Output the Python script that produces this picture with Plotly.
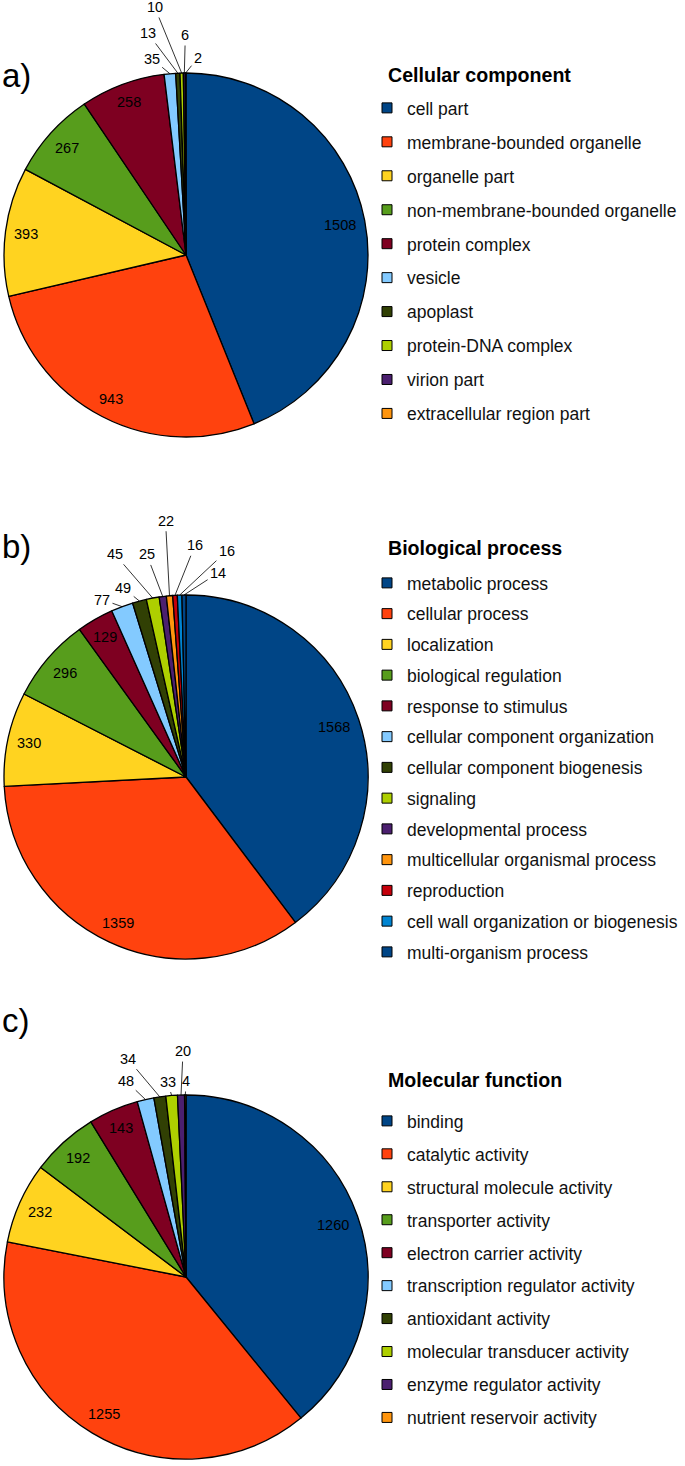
import math
import plotly.graph_objects as go

W, H = 685, 1466
FONT = "Liberation Sans, Arial, sans-serif"

# ---------------- data ----------------
cc_title = "Cellular component"
cc_labels = ["cell part", "membrane-bounded organelle", "organelle part",
             "non-membrane-bounded organelle", "protein complex", "vesicle",
             "apoplast", "protein-DNA complex", "virion part",
             "extracellular region part"]
cc_values = [1508, 943, 393, 267, 258, 35, 13, 10, 6, 2]

bp_title = "Biological process"
bp_labels = ["metabolic process", "cellular process", "localization",
             "biological regulation", "response to stimulus",
             "cellular component organization", "cellular component biogenesis",
             "signaling", "developmental process",
             "multicellular organismal process", "reproduction",
             "cell wall organization or biogenesis", "multi-organism process"]
bp_values = [1568, 1359, 330, 296, 129, 77, 49, 45, 25, 22, 16, 16, 14]

mf_title = "Molecular function"
mf_labels = ["binding", "catalytic activity", "structural molecule activity",
             "transporter activity", "electron carrier activity",
             "transcription regulator activity", "antioxidant activity",
             "molecular transducer activity", "enzyme regulator activity",
             "nutrient reservoir activity"]
mf_values = [1260, 1255, 232, 192, 143, 48, 34, 33, 20, 4]

panel_tags = ["a)", "b)", "c)"]

# ---------------- style / layout ----------------
palette = ["#004586", "#ff420e", "#ffd320", "#579d1c", "#7e0021", "#83caff",
           "#314004", "#aecf00", "#4b1f6f", "#ff950e", "#c5000b", "#0084d1",
           "#004586"]

# pixel offsets of the leader-line labels for the small slices (layout only)
cc_small_offsets = [(-18, -15), (-30, -40), (-27, -66), (1, -38), (12, -15)]
bp_small_offsets = [(-20, -7), (-16, -13), (-38, -44), (-16, -42), (-4, -75),
                    (20, -50), (47, -44), (34, -22)]
mf_small_offsets = [(-20, -19), (-32, -38), (-4, -14), (2, -44), (1, -14)]

R = 182          # pie radius in px
CX = 186         # pie centre x in px
VAL_FS = 14.5    # value label font size


def px_x(x):
    return x / W


def px_y(y):
    return 1 - y / H


def mid_angles(values):
    tot = float(sum(values))
    out, cum = [], 0.0
    for v in values:
        out.append(2 * math.pi * (cum + v / 2.0) / tot)
        cum += v
    return out


fig = go.Figure()

# (title, labels, values, offsets, pie centre y, title y, tag y, first legend y, gap, legend id)
panels = [
    (cc_title, cc_labels, cc_values, cc_small_offsets, 255, 75, 75, 107, 8.2, "legend"),
    (bp_title, bp_labels, bp_values, bp_small_offsets, 777, 548, 547, 582, 5.0, "legend2"),
    (mf_title, mf_labels, mf_values, mf_small_offsets, 1277, 1080, 1020, 1120, 7.2, "legend3"),
]

layout_legends = {}
for k, (title, labels, values, offsets, cy, ty, tagy, ly, gap, lg) in enumerate(panels):
    colors = palette[:len(values)]
    fig.add_trace(go.Pie(
        labels=labels, values=values, sort=False, direction="clockwise",
        rotation=0, textinfo="none",
        marker=dict(colors=colors, line=dict(color="black", width=1.3)),
        showlegend=False, hoverinfo="label+value",
        domain=dict(x=[px_x(CX - R), px_x(CX + R)],
                    y=[px_y(cy + R), px_y(cy - R)]),
    ))

    # value labels, placed from the slice angles
    angs = mid_angles(values)
    small_i = 0
    for v, th in zip(values, angs):
        s, c = math.sin(th), math.cos(th)
        txt = str(v)
        if v >= 100:
            w = len(txt) * 0.556 * VAL_FS
            h = VAL_FS
            rt = R - 8 - (abs(s) * w / 2 + abs(c) * h / 2)
            fig.add_annotation(
                text=txt, x=px_x(CX + rt * s), y=px_y(cy - rt * c),
                xref="paper", yref="paper", showarrow=False,
                xanchor="center", yanchor="middle",
                font=dict(size=VAL_FS, family=FONT, color="black"))
        else:
            ax, ay = offsets[small_i]
            small_i += 1
            fig.add_annotation(
                text=txt, x=px_x(CX + R * s), y=px_y(cy - R * c),
                xref="paper", yref="paper", showarrow=True,
                ax=ax, ay=ay, arrowhead=0, arrowwidth=0.8,
                arrowcolor="black", standoff=0, startstandoff=1,
                font=dict(size=VAL_FS, family=FONT, color="black"))

    # legend entries
    for i, (lab, col) in enumerate(zip(labels, colors)):
        fig.add_trace(go.Scatter(
            x=[None], y=[None], mode="markers", name=lab,
            legendgroup=f"{lg}_{i}", legend=lg, showlegend=True,
            hoverinfo="skip",
            marker=dict(symbol="square", size=10, color=col,
                        line=dict(color="black", width=1)),
        ))
    layout_legends[lg] = dict(
        x=px_x(367), y=px_y(ly - 17), xanchor="left", yanchor="top",
        font=dict(size=17.5, family=FONT, color="#111"),
        tracegroupgap=gap, traceorder="grouped",
        bgcolor="rgba(0,0,0,0)", borderwidth=0,
    )
    fig.add_annotation(text=f"<b>{title}</b>", x=px_x(386), y=px_y(ty),
                       xref="paper", yref="paper", xanchor="left",
                       yanchor="middle", showarrow=False,
                       font=dict(size=19.6, family=FONT, color="black"))
    fig.add_annotation(text=panel_tags[k], x=px_x(0), y=px_y(tagy),
                       xref="paper", yref="paper", xanchor="left",
                       yanchor="middle", showarrow=False,
                       font=dict(size=33, family=FONT, color="black"))

fig.update_layout(
    width=W, height=H,
    margin=dict(l=0, r=0, t=0, b=0, autoexpand=False),
    paper_bgcolor="white", plot_bgcolor="white",
    xaxis=dict(visible=False), yaxis=dict(visible=False),
    font=dict(family=FONT),
    **layout_legends,
)

fig.write_html("out.html",
               config={"displayModeBar": False},
               post_script="document.body.style.margin='0px';"
                           "document.body.style.overflow='hidden';")
